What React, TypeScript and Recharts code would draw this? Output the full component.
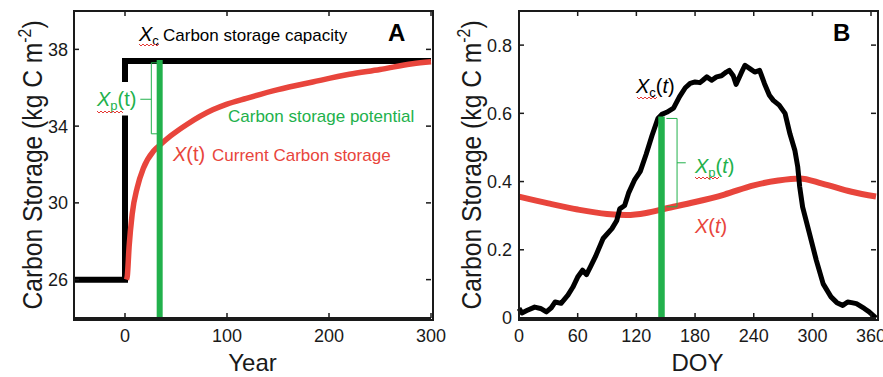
import React from 'react';
import { LineChart, Line, XAxis, YAxis } from 'recharts';

// ---------- panel A: carbon storage over years ----------
const capYears = [-50, 0, 0, 0, 0, 0, 300];
const capValues = [26, 26, 34.55, null, 36.3, 37.4, 37.4];

const curYears = [1.5, 2.3, 4, 7, 12, 18, 28, 34, 45, 61, 86, 100, 119, 150, 184, 220, 250, 282, 300];
const curValues = [26, 26.2, 27.7, 29.4, 30.8, 31.8, 32.7, 33.0, 33.5, 34.1, 34.85, 35.15, 35.45, 35.9, 36.3, 36.7, 36.95, 37.25, 37.35];

const potBarYears = [34, 34];
const potBarValues = [24, 37.45];

const braceAYears = [32, 25.8, 25.8, 32, 32, 25.8, 15];
const braceAValues = [37.3, 37.3, 33.6, 33.6, null, 35.4, 35.4];

const yearDomain = [-50, 300];
const storageDomainA = [24, 40];
const yearTicks = [0, 100, 200, 300];
const storageTicksA = [26, 30, 34, 38];

// ---------- panel B: seasonal carbon storage ----------
const doyCap = [0, 3, 8, 16, 22, 28, 33, 37, 43, 50, 55, 60, 65, 69, 73, 78, 86, 95, 100, 103, 108, 112, 118, 124, 130, 136, 142, 146, 151, 158, 164, 170, 175, 180, 185, 188, 192, 197, 202, 207, 212, 215, 219, 222, 227, 231, 236, 241, 246, 251, 256, 260, 266, 272, 277, 282, 285, 287, 290, 297, 304, 311, 319, 325, 331, 336, 340, 345, 353, 358, 362, 365];
const capDoyValues = [0.028, 0.015, 0.022, 0.032, 0.028, 0.018, 0.03, 0.047, 0.043, 0.067, 0.09, 0.12, 0.14, 0.127, 0.15, 0.179, 0.233, 0.262, 0.286, 0.32, 0.33, 0.366, 0.404, 0.43, 0.48, 0.535, 0.585, 0.597, 0.603, 0.615, 0.648, 0.675, 0.688, 0.692, 0.69, 0.697, 0.707, 0.697, 0.707, 0.71, 0.721, 0.726, 0.71, 0.685, 0.717, 0.741, 0.731, 0.721, 0.726, 0.687, 0.653, 0.638, 0.624, 0.6, 0.54, 0.492, 0.443, 0.384, 0.325, 0.247, 0.169, 0.1, 0.062, 0.045, 0.037, 0.047, 0.045, 0.042, 0.028, 0.018, 0.008, 0.0];

const doyCur = [0, 30, 60, 90, 110, 130, 150, 180, 210, 240, 265, 287, 310, 340, 365];
const curDoyValues = [0.356, 0.336, 0.318, 0.305, 0.302, 0.308, 0.321, 0.34, 0.362, 0.389, 0.403, 0.409, 0.394, 0.37, 0.356];

const potBarDoy = [145.7, 145.7];
const potBarDoyValues = [0, 0.591];

const braceBDoy = [150.7, 161.6, 161.6, 150.7, 150.7, 161.6, 170.5];
const braceBValues = [0.585, 0.585, 0.326, 0.326, null, 0.455, 0.455];

const doyDomain = [0, 365];
const storageDomainB = [0, 0.9];
const doyTicks = [0, 60, 120, 180, 240, 300, 360];
const storageTicksB = [0, 0.2, 0.4, 0.6, 0.8];

const BLACK = '#000000';
const RED = '#e8453c';
const GREEN = '#22b14c';
const INK = '#1a1a1a';

// chart layout (shared by both panels)
const CH = 377;
const TOP = 11;
const XAXIS_H = 59;
const PLOT_B = CH - XAXIS_H;
const TICK = 5;

const pts = (xs: number[], ys: (number | null)[]) => xs.map((x, i) => ({ x, y: ys[i] }));

// MATLAB-style box ticks: label outside, short mark inside on both sides
function xTick(plotTop: number) {
  return (p: any) => (
    <g>
      <line x1={p.x} x2={p.x} y1={PLOT_B} y2={PLOT_B - TICK} stroke={INK} strokeWidth={1.5} />
      <line x1={p.x} x2={p.x} y1={plotTop} y2={plotTop + TICK} stroke={INK} strokeWidth={1.5} />
      <text x={p.x} y={p.y} dy="0.71em" textAnchor="middle" fontSize={18} fill={INK}>{p.payload.value}</text>
    </g>
  );
}
function yTick(plotL: number, plotR: number) {
  return (p: any) => (
    <g>
      <line x1={plotL} x2={plotL + TICK} y1={p.y} y2={p.y} stroke={INK} strokeWidth={1.5} />
      <line x1={plotR - TICK} x2={plotR} y1={p.y} y2={p.y} stroke={INK} strokeWidth={1.5} />
      <text x={p.x} y={p.y} dy="0.355em" textAnchor="end" fontSize={18} fill={INK}>{p.payload.value}</text>
    </g>
  );
}

// little red spell-check squiggle
function wave(x0: number, x1: number, y: number) {
  let d = `M${x0},${y}`;
  let up = true;
  for (let x = x0 + 2; x <= x1; x += 2) {
    d += ` L${x},${up ? y + 2 : y}`;
    up = !up;
  }
  return <path d={d} fill="none" stroke="#e53935" strokeWidth={1} />;
}

const axisCommon = {
  stroke: INK,
  strokeWidth: 1.8,
  tickLine: false,
  tickSize: 0,
};

// panel A geometry
const A_W = 450, A_RIGHT = 19, A_YW = 74;
// panel B geometry
const B_X = 440, B_W = 443, B_RIGHT = 7, B_YW = 79;

function PanelA() {
  return (
    <LineChart width={A_W} height={CH} margin={{ top: TOP, right: A_RIGHT, bottom: 0, left: 0 }}>
      <XAxis dataKey="x" type="number" domain={yearDomain} ticks={yearTicks} height={XAXIS_H} tickMargin={11} tick={xTick(TOP)} {...axisCommon} />
      <YAxis type="number" domain={storageDomainA} ticks={storageTicksA} width={A_YW} tickMargin={6} tick={yTick(A_YW, A_W - A_RIGHT)} {...axisCommon} />
      <Line data={pts(capYears, capValues)} dataKey="y" stroke={BLACK} strokeWidth={6} dot={false} strokeLinejoin="miter" strokeLinecap="butt" isAnimationActive={false} />
      <Line data={pts(curYears, curValues)} dataKey="y" type="monotone" stroke={RED} strokeWidth={5.5} dot={false} isAnimationActive={false} />
      <Line data={pts(potBarYears, potBarValues)} dataKey="y" stroke={GREEN} strokeWidth={6} strokeLinecap="butt" dot={false} isAnimationActive={false} />
      <Line data={pts(braceAYears, braceAValues)} dataKey="y" stroke={GREEN} strokeWidth={1} dot={false} isAnimationActive={false} />
    </LineChart>
  );
}

function PanelB() {
  return (
    <LineChart width={B_W} height={CH} margin={{ top: TOP, right: B_RIGHT, bottom: 0, left: 0 }}>
      <XAxis dataKey="x" type="number" domain={doyDomain} ticks={doyTicks} height={XAXIS_H} tickMargin={11} tick={xTick(TOP)} {...axisCommon} />
      <YAxis type="number" domain={storageDomainB} ticks={storageTicksB} width={B_YW} tickMargin={7} tick={yTick(B_YW, B_W - B_RIGHT)} {...axisCommon} />
      <Line data={pts(doyCur, curDoyValues)} dataKey="y" type="monotone" stroke={RED} strokeWidth={6} dot={false} isAnimationActive={false} />
      <Line data={pts(doyCap, capDoyValues)} dataKey="y" stroke={BLACK} strokeWidth={5} dot={false} strokeLinejoin="round" isAnimationActive={false} />
      <Line data={pts(potBarDoy, potBarDoyValues)} dataKey="y" stroke={GREEN} strokeWidth={6.5} strokeLinecap="butt" dot={false} isAnimationActive={false} />
      <Line data={pts(braceBDoy, braceBValues)} dataKey="y" stroke={GREEN} strokeWidth={1} dot={false} isAnimationActive={false} />
    </LineChart>
  );
}

function YTitle({ x }: { x: number }) {
  return (
    <text transform={`translate(${x},165) scale(1,0.88) rotate(-90)`} textAnchor="middle" fontSize={28} fill={INK}>
      Carbon Storage (kg C m<tspan dy={-11} fontSize={18}>-2</tspan><tspan dy={11}>)</tspan>
    </text>
  );
}

// plain HTML frame around a plot area
function Frame({ left, width }: { left: number; width: number }) {
  return (
    <div style={{
      position: 'absolute', left: left - 1, top: TOP - 1, width: width, height: PLOT_B - TOP,
      border: `2px solid ${INK}`, pointerEvents: 'none',
    }} />
  );
}

function Annotations() {
  return (
    <svg width={883} height={377} style={{ position: 'absolute', left: 0, top: 0, pointerEvents: 'none' }}>
      {/* panel A */}
      <YTitle x={42} />
      <text x={252.5} y={371} textAnchor="middle" fontSize={24} fill={INK}>Year</text>
      <text x={139} y={40.5} fontSize={20} fill={BLACK}>
        <tspan fontStyle="italic">X</tspan><tspan fontSize={13} dy={4}>c</tspan>
      </text>
      {wave(139, 159, 44)}
      <text x={163} y={40.5} fontSize={17} fill={BLACK}>Carbon storage capacity</text>
      <text x={388} y={40.5} fontSize={24} fontWeight="bold" fill={BLACK}>A</text>
      <text x={97} y={106} fontSize={20} fill={GREEN}>
        <tspan fontStyle="italic">X</tspan><tspan fontSize={13} dy={4}>p</tspan><tspan dy={-4}>(t)</tspan>
      </text>
      {wave(97, 123, 111)}
      <text x={228} y={122} fontSize={17} fill={GREEN}>Carbon storage potential</text>
      <text x={173} y={161} fontSize={20} fill={RED}>
        <tspan fontStyle="italic">X</tspan>(t)
      </text>
      <text x={212} y={161} fontSize={17} fill={RED}>Current Carbon storage</text>

      {/* panel B */}
      <YTitle x={481} />
      <text x={697.5} y={371} textAnchor="middle" fontSize={24} fill={INK}>DOY</text>
      <text x={833} y={40.5} fontSize={24} fontWeight="bold" fill={BLACK}>B</text>
      <text x={636} y={93} fontSize={20} fill={BLACK}>
        <tspan fontStyle="italic">X</tspan><tspan fontSize={13} dy={4}>c</tspan><tspan dy={-4}>(</tspan><tspan fontStyle="italic">t</tspan>)
      </text>
      {wave(637, 657, 97)}
      <text x={695} y={173} fontSize={20} fill={GREEN}>
        <tspan fontStyle="italic">X</tspan><tspan fontSize={13} dy={4}>p</tspan><tspan dy={-4}>(</tspan><tspan fontStyle="italic">t</tspan>)
      </text>
      {wave(695, 719, 177)}
      <text x={695} y={233} fontSize={20} fill={RED}>
        <tspan fontStyle="italic">X</tspan>(<tspan fontStyle="italic">t</tspan>)
      </text>
    </svg>
  );
}

export default function App() {
  return (
    <div style={{ position: 'absolute', left: 0, top: 0, width: 883, height: 377, background: '#fff', fontFamily: '"Liberation Sans", Arial, sans-serif', overflow: 'hidden' }}>
      <div style={{ position: 'absolute', left: 0, top: 0 }}>
        <PanelA />
      </div>
      <div style={{ position: 'absolute', left: B_X, top: 0 }}>
        <PanelB />
      </div>
      <Frame left={A_YW} width={A_W - A_RIGHT - A_YW} />
      <Frame left={B_X + B_YW} width={B_W - B_RIGHT - B_YW} />
      <Annotations />
    </div>
  );
}
